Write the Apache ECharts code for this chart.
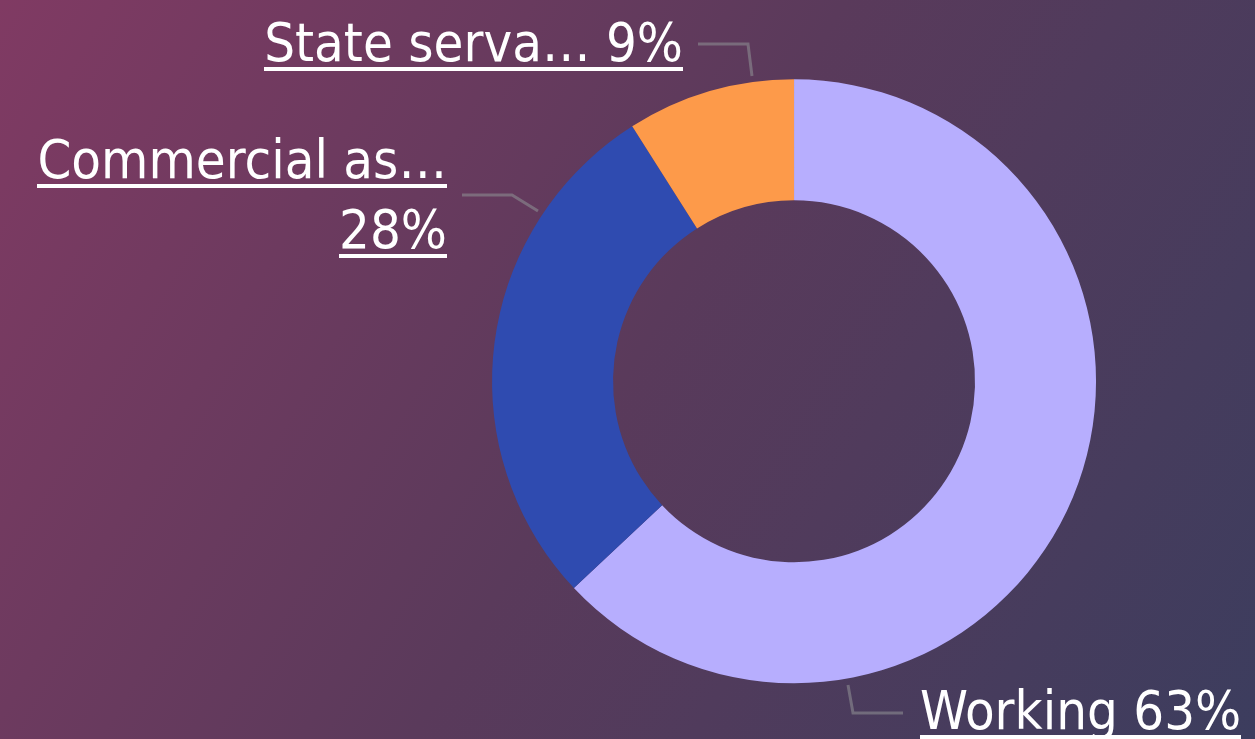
<!DOCTYPE html>
<html>
<head>
<meta charset="utf-8">
<script src="https://cdn.jsdelivr.net/npm/echarts@6/dist/echarts.min.js"></script>
<style>
html,body{margin:0;padding:0;width:1255px;height:739px;overflow:hidden;}
#chart{width:1255px;height:739px;}
</style>
</head>
<body>
<div id="chart"></div>
<script>
const categories = ['Working', 'Commercial as…', 'State serva…'];
const values = [63, 28, 9];
const colors = ['#b7aefe', '#2f4bb0', '#fd9a4a'];

// underline background image for rich text
function underlineImage() {
  const c = document.createElement('canvas');
  c.width = 8; c.height = 70;
  const ctx = c.getContext('2d');
  ctx.fillStyle = '#ffffff';
  ctx.fillRect(0, 61, 8, 5);
  return c;
}
const ul = underlineImage();

// label placement (label line points: start, elbow, end) per slice
const labelPlacement = [
  { pts: [[848, 685], [853, 713], [903, 713]], align: 'left', gap: 17, dy: 2 },
  { pts: [[538, 211], [512, 195], [462, 195]], align: 'right', gap: 15, dy: 4 },
  { pts: [[752, 76], [748, 44], [698, 44]], align: 'right', gap: 15, dy: 3 }
];

const chart = echarts.init(document.getElementById('chart'));
const FONT = '"DejaVu Sans Condensed", "DejaVu Sans", sans-serif';
chart.setOption({
  backgroundColor: {
    type: 'linear', x: 0, y: 0, x2: 1, y2: 1,
    colorStops: [
      { offset: 0, color: '#803a63' },
      { offset: 0.5, color: '#5a3a5b' },
      { offset: 1, color: '#3c3d5e' }
    ]
  },
  animation: false,
  series: [{
    type: 'pie',
    center: ['63.27%', '51.6%'],
    radius: [181, 302],
    startAngle: 90,
    clockwise: true,
    avoidLabelOverlap: false,
    data: categories.map((n, i) => ({ name: n, value: values[i], itemStyle: { color: colors[i] } })),
    label: {
      show: true,
      position: 'outer',
      alignTo: 'none',
      formatter: function (p) {
        const pct = Math.round(p.percent) + '%';
        if (p.dataIndex === 1) return '{u|' + p.name + '}\n{u|' + pct + '}';
        return '{u|' + p.name + ' ' + pct + '}';
      },
      rich: {
        u: {
          color: '#ffffff',
          fontFamily: FONT,
          fontSize: 54,
          lineHeight: 70,
          backgroundColor: { image: ul }
        }
      }
    },
    labelLine: {
      show: true,
      length: 30,
      length2: 45,
      lineStyle: { color: 'rgba(140,140,145,0.6)', width: 3 }
    },
    labelLayout: function (params) {
      const lp = labelPlacement[params.dataIndex];
      const end = lp.pts[2];
      return {
        x: lp.align === 'left' ? end[0] + lp.gap : end[0] - lp.gap,
        y: end[1] + lp.dy,
        align: lp.align,
        verticalAlign: 'middle',
        labelLinePoints: lp.pts
      };
    }
  }]
});
</script>
</body>
</html>
